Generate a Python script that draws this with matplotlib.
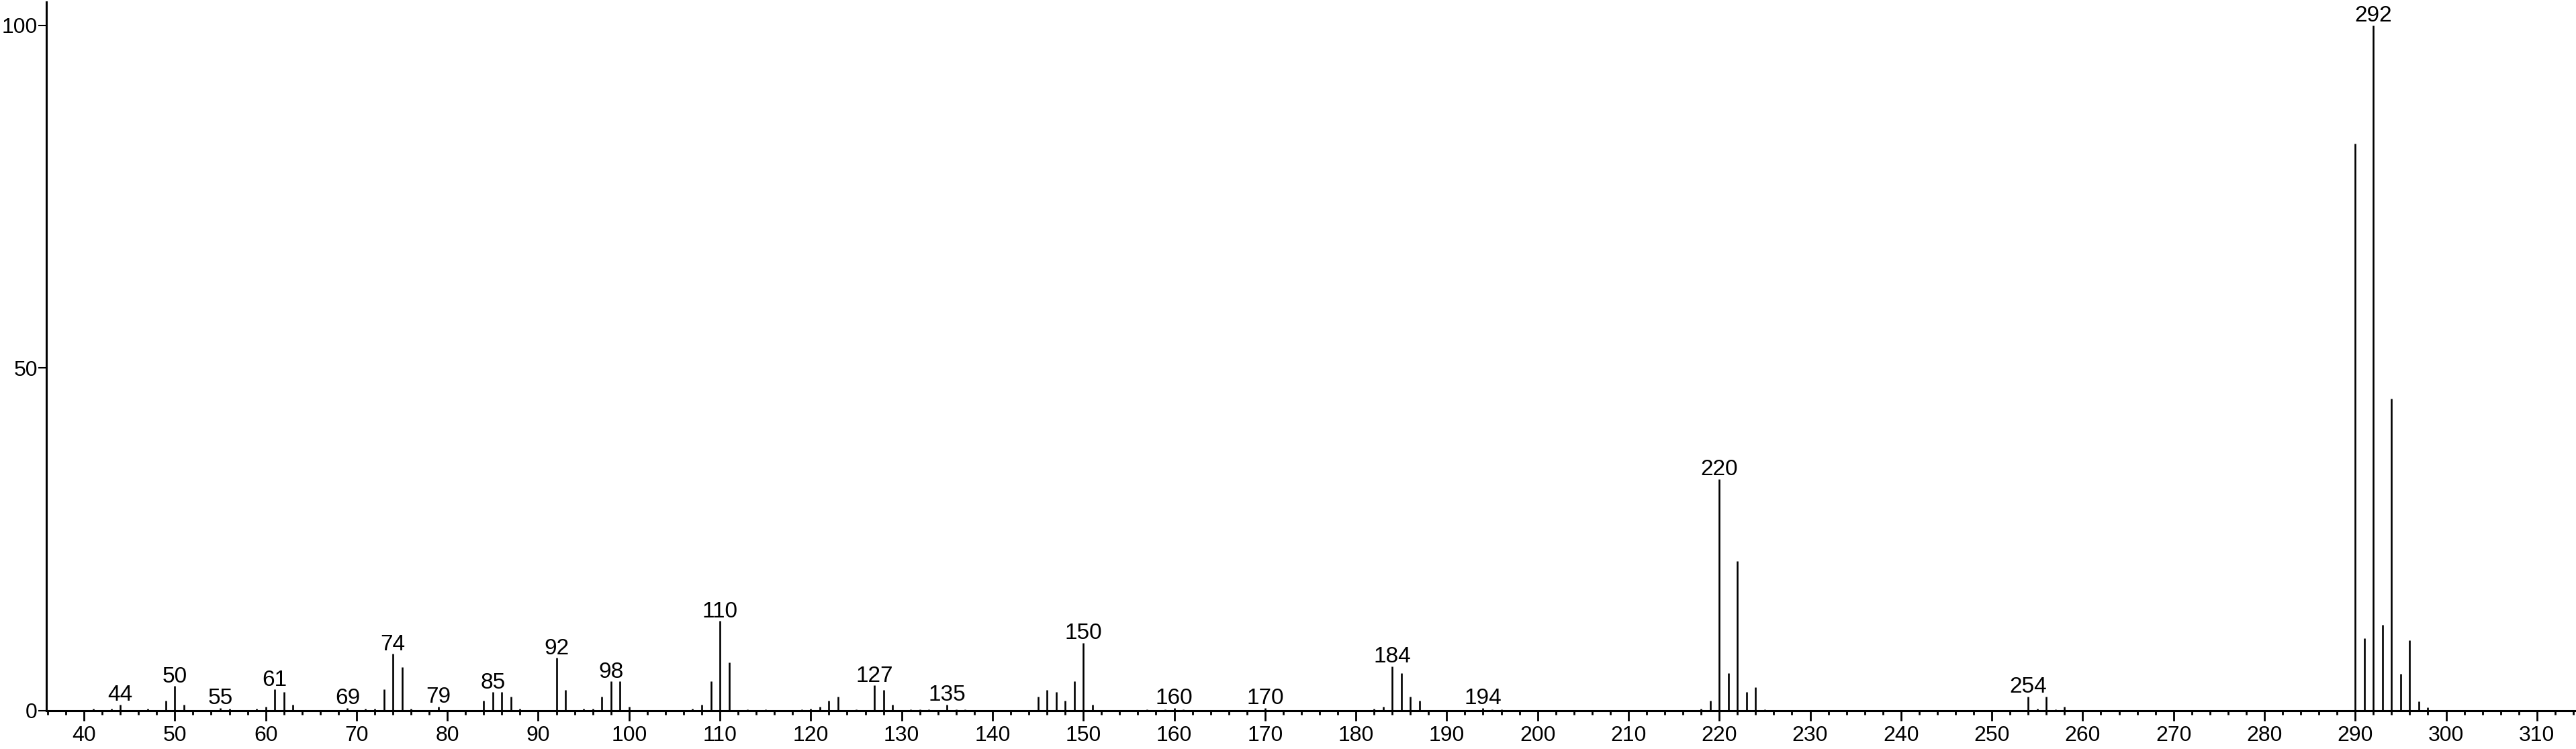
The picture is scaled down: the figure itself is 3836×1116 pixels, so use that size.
import numpy as np
import matplotlib
matplotlib.use('Agg')
import matplotlib.pyplot as plt
from matplotlib.ticker import MultipleLocator

plt.rcParams['font.family'] = ['Liberation Sans', 'DejaVu Sans']

# m/z and relative intensity
mz = [41, 43, 44, 47, 49, 50, 51, 55, 56, 59, 60, 61, 62, 63, 69, 71, 72, 73, 74, 75, 76, 79,
      84, 85, 86, 87, 88, 92, 93, 95, 96, 97, 98, 99, 100, 107, 108, 109, 110, 111, 113, 115,
      119, 120, 121, 122, 123, 125, 127, 128, 129, 131, 132, 133, 135, 136, 137,
      145, 146, 147, 148, 149, 150, 151, 157, 159, 160, 161, 170,
      182, 183, 184, 185, 186, 187, 194, 195, 196,
      218, 219, 220, 221, 222, 223, 224, 225,
      254, 255, 256, 257, 258,
      290, 291, 292, 293, 294, 295, 296, 297, 298]
inten = [0.3, 0.3, 0.9, 0.3, 1.5, 3.6, 0.9, 0.4, 0.3, 0.3, 0.6, 3.1, 2.7, 0.85, 0.4, 0.3, 0.3, 3.1, 8.3, 6.4, 0.3, 0.6,
         1.5, 2.7, 2.7, 2.1, 0.3, 7.7, 3.0, 0.3, 0.3, 2.1, 4.3, 4.3, 0.6, 0.3, 0.9, 4.3, 13.1, 7.0, 0.2, 0.2,
         0.2, 0.3, 0.6, 1.5, 2.1, 0.2, 3.7, 3.0, 0.9, 0.2, 0.2, 0.2, 0.9, 0.2, 0.2,
         2.1, 3.0, 2.7, 1.5, 4.3, 9.9, 0.9, 0.2, 0.2, 0.4, 0.2, 0.4,
         0.3, 0.6, 6.5, 5.5, 2.1, 1.5, 0.4, 0.2, 0.2,
         0.3, 1.5, 33.8, 5.5, 21.8, 2.7, 3.4, 0.2,
         2.1, 0.3, 2.1, 0.2, 0.6,
         82.7, 10.6, 100.0, 12.5, 45.5, 5.4, 10.3, 1.4, 0.5]
labelled = [44, 50, 55, 61, 69, 74, 79, 85, 92, 98, 110, 127, 135, 150, 160, 170, 184, 194, 220, 254, 292]

fig = plt.figure(figsize=(38.36, 11.16), dpi=100)
ax = fig.add_axes([0.018, 0.0511, 0.982, 0.9462])

ax.vlines(mz, 0, inten, colors='black', linewidth=1.9)
for m in labelled:
    h = inten[mz.index(m)]
    ax.annotate(str(m), (m, h), xytext=(0, 4), textcoords='offset points',
                ha='center', va='baseline', fontsize=24, clip_on=False)

ax.set_xlim(35.86, 314.3)
ax.set_ylim(0, 103.4)
ax.set_xticks(np.arange(40, 311, 10))
ax.xaxis.set_minor_locator(MultipleLocator(2))
ax.set_yticks([0, 50, 100])

for s in ['top', 'right']:
    ax.spines[s].set_visible(False)
ax.spines['left'].set_linewidth(2.2)
ax.spines['bottom'].set_linewidth(2.2)

ax.tick_params(axis='x', which='major', direction='out', length=10.8, width=2.0, labelsize=23, pad=5)
ax.tick_params(axis='x', which='minor', direction='out', length=4.3, width=2.0)
ax.tick_params(axis='y', which='major', direction='out', length=8.5, width=1.5, labelsize=23, pad=1)

fig.savefig('out.png', dpi=100)
